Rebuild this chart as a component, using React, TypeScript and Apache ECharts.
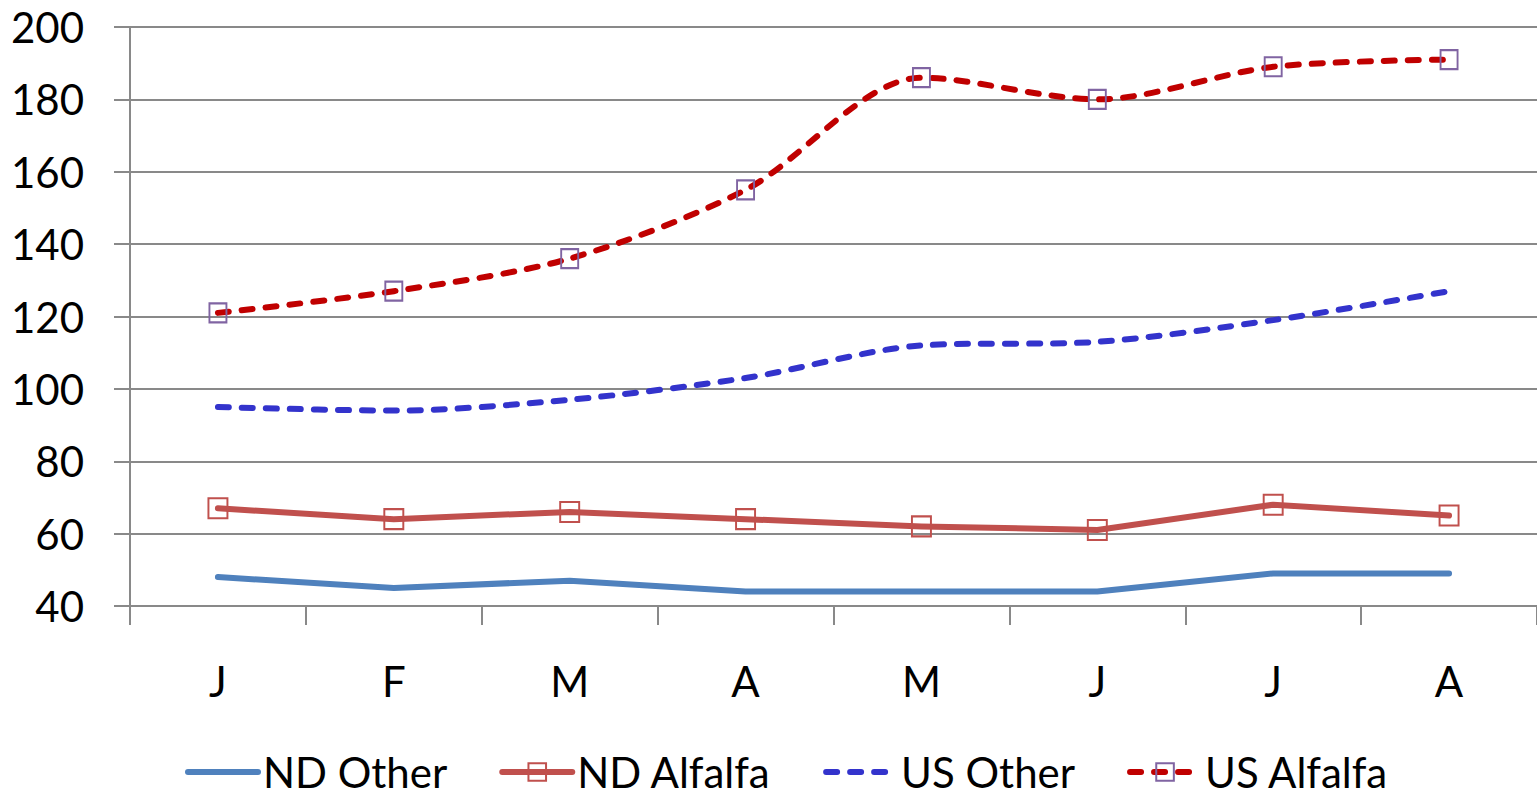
import React, { useEffect, useRef } from "react";
import * as echarts from "echarts";

const months = ["J", "F", "M", "A", "M", "J", "J", "A"];
const ndOther = [48, 45, 47, 44, 44, 44, 49, 49];
const ndAlfalfa = [67, 64, 66, 64, 62, 61, 68, 65];
const usOther = [95, 94, 97, 103, 112, 113, 119, 127];
const usAlfalfa = [121, 127, 136, 155, 186, 180, 189, 191];
const yMin = 40;
const yMax = 200;
const yStep = 20;

const FONT = "Lato";
const GRID_COLOR = "#898989";

export default function App() {
  const ref = useRef<HTMLDivElement>(null);
  useEffect(() => {
    if (!ref.current) return;
    const chart = echarts.init(ref.current, null, { renderer: "svg" });
    const hiddenSymbol = { opacity: 0, color: "rgba(0,0,0,0)", borderWidth: 0 };
    chart.setOption({
      animation: false,
      backgroundColor: "#ffffff",
      textStyle: { fontFamily: FONT },
      grid: { left: 130, top: 27, width: 1411, bottom: 191, containLabel: false },
      xAxis: {
        type: "category",
        data: months,
        boundaryGap: true,
        axisLine: { show: true, lineStyle: { color: GRID_COLOR, width: 2 } },
        axisTick: { show: true, length: 19, alignWithLabel: false, lineStyle: { color: GRID_COLOR, width: 2 } },
        axisLabel: { color: "#000", fontSize: 42, fontFamily: FONT, margin: 54 },
        splitLine: { show: false },
      },
      yAxis: {
        type: "value",
        min: yMin,
        max: yMax,
        interval: yStep,
        axisLine: { show: true, lineStyle: { color: GRID_COLOR, width: 2 } },
        axisTick: { show: true, length: 16, inside: false, lineStyle: { color: GRID_COLOR, width: 2 } },
        axisLabel: { color: "#000", fontSize: 42, fontFamily: FONT, margin: 46 },
        splitLine: { show: true, lineStyle: { color: GRID_COLOR, width: 2 } },
      },
      legend: {
        left: 180,
        top: 746,
        itemWidth: 70,
        itemHeight: 22,
        itemGap: 52,
        lineStyle: { width: 6 },
        textStyle: { color: "#000", fontSize: 42, fontFamily: FONT },
        data: [
          { name: "ND Other", itemStyle: hiddenSymbol },
          { name: "ND Alfalfa" },
          { name: "US Other", itemStyle: hiddenSymbol },
          { name: "US Alfalfa" },
        ],
      },
      series: [
        {
          name: "ND Other",
          type: "line",
          data: ndOther,
          symbol: "none",
          color: "#4F81BD",
          lineStyle: { color: "#4F81BD", width: 6, cap: "round", join: "round" },
          z: 2,
        },
        {
          name: "ND Alfalfa",
          type: "line",
          data: ndAlfalfa,
          symbol: "rect",
          symbolSize: [19, 20],
          color: "#C0504D",
          itemStyle: { color: "rgba(255,255,255,0)", borderColor: "#C0504D", borderWidth: 2 },
          lineStyle: { color: "#C0504D", width: 6, cap: "round", join: "round" },
          z: 3,
        },
        {
          name: "US Other",
          type: "line",
          data: usOther,
          symbol: "none",
          smooth: 0.3,
          color: "#3333CC",
          lineStyle: { color: "#3333CC", width: 6, type: [11, 13], cap: "round", join: "round" },
          z: 4,
        },
        {
          name: "US Alfalfa",
          type: "line",
          data: usAlfalfa,
          symbol: "rect",
          symbolSize: [17, 19],
          smooth: 0.3,
          color: "#C00000",
          itemStyle: { color: "rgba(255,255,255,0)", borderColor: "#8064A2", borderWidth: 2 },
          lineStyle: { color: "#C00000", width: 6, type: [11, 13], cap: "round", join: "round" },
          z: 5,
        },
      ],
    });
    return () => chart.dispose();
  }, []);
  return (
    <div
      ref={ref}
      style={{ position: "fixed", left: 0, top: 0, width: 1537, height: 797 }}
    />
  );
}
